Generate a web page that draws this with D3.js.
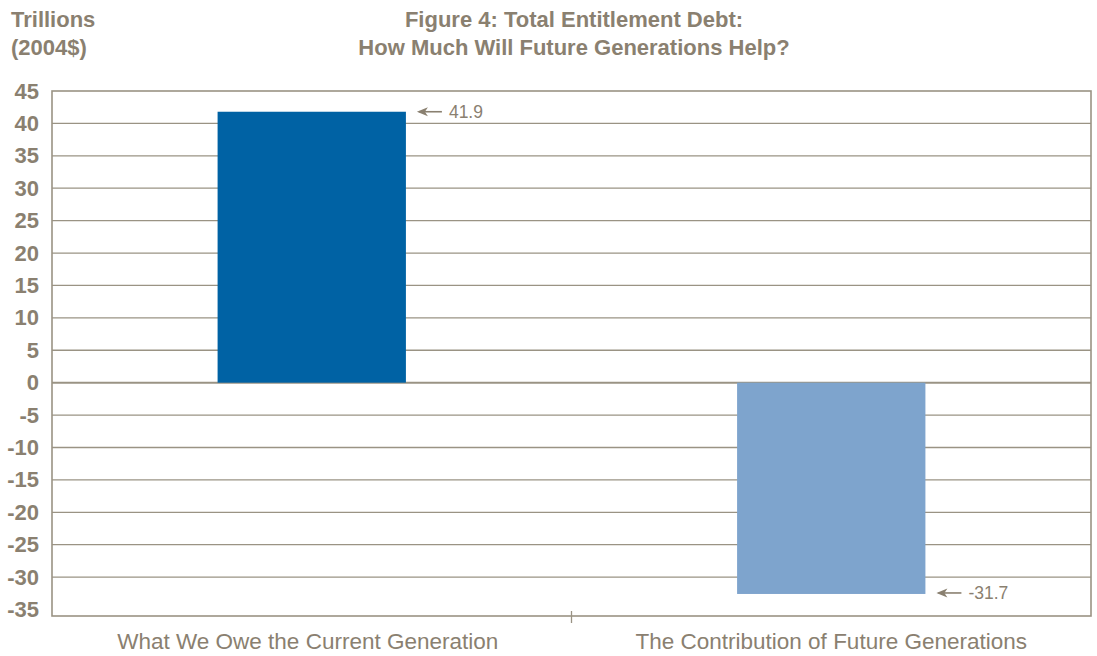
<!DOCTYPE html>
<html><head><meta charset="utf-8">
<script src="https://cdn.jsdelivr.net/npm/d3@7"></script>
<style>body{margin:0;background:#fff}svg{display:block}</style>
</head><body>
<script>
const categories = ["What We Owe the Current Generation", "The Contribution of Future Generations"];
const values = [41.8, -32.6];
const valueLabels = ["41.9", "-31.7"];
const barColors = ["#0062a4", "#7ea4cd"];
const yTicks = [45, 40, 35, 30, 25, 20, 15, 10, 5, 0, -5, -10, -15, -20, -25, -30, -35];
const gridValues = [40, 35, 30, 25, 20, 15, 10, 5, 0, -5, -10, -15, -20, -25, -30];
const titleLines = ["Figure 4: Total Entitlement Debt:", "How Much Will Future Generations Help?"];
const unitLines = ["Trillions", "(2004$)"];

const W = 1097, H = 656;
const txt = "#8a8070", grid = "#9a9384";
const L = 52, R = 1091, T = 91, B = 616;
const svg = d3.select("body").append("svg").attr("width", W).attr("height", H);
const font = "'Liberation Sans', Arial, sans-serif";

const y = d3.scaleLinear().domain([-36, 45]).range([B, T]);
const x = d3.scaleBand().domain(categories).range([L, R]).padding(0);
const barW = x.bandwidth() * 0.3625;

// gridlines
svg.append("g").selectAll("line").data(gridValues).join("line")
  .attr("x1", L).attr("x2", R).attr("y1", d => y(d)).attr("y2", d => y(d))
  .attr("stroke", grid).attr("stroke-width", d => d === 0 ? 2 : 1.3);

// bars
svg.append("g").selectAll("rect").data(values).join("rect")
  .attr("x", (d, i) => x(categories[i]) + x.bandwidth() / 2 - barW / 2)
  .attr("width", barW)
  .attr("y", d => y(Math.max(0, d)))
  .attr("height", d => Math.abs(y(d) - y(0)))
  .attr("fill", (d, i) => barColors[i]);

// frame
svg.append("rect").attr("x", L).attr("y", y(45)).attr("width", R - L).attr("height", y(-36) - y(45))
  .attr("fill", "none").attr("stroke", grid).attr("stroke-width", 1.6);

// middle tick
svg.append("line").attr("x1", x(categories[1])).attr("x2", x(categories[1]))
  .attr("y1", B - 5).attr("y2", B + 7).attr("stroke", grid).attr("stroke-width", 1.3);

// y axis labels
const yAxis = d3.axisLeft(y).tickValues(yTicks).tickSize(0).tickPadding(13).tickFormat(d => String(d));
const ga = svg.append("g").attr("transform", `translate(${L},0)`).call(yAxis);
ga.select(".domain").remove();
ga.selectAll("text").attr("fill", txt).style("font", `bold 22px ${font}`);

// x labels
svg.append("g").selectAll("text").data(categories).join("text")
  .attr("x", (d, i) => x(d) + x.bandwidth() / 2 + (i === 0 ? -4 : 0)).attr("y", 649)
  .attr("text-anchor", "middle").attr("fill", txt)
  .style("font", `22.5px ${font}`).text(d => d);

// value annotations
const ann = svg.append("g").selectAll("g").data(values).join("g")
  .attr("transform", (d, i) => `translate(${x(categories[i]) + x.bandwidth() / 2 + barW / 2 + 11},${i === 0 ? y(d) : y(d) - 1})`);
ann.append("line").attr("x1", 2).attr("x2", 25).attr("y1", 0).attr("y2", 0).attr("stroke", txt).attr("stroke-width", 1.6);
ann.append("path").attr("d", "M0,0 L11,-4.5 L8,0 L11,4.5 Z").attr("fill", txt);
ann.append("text").attr("x", 32).attr("y", 6).attr("fill", txt)
  .style("font", `17.5px ${font}`).text((d, i) => valueLabels[i]);

// title
svg.append("g").selectAll("text").data(titleLines).join("text")
  .attr("x", 574).attr("y", (d, i) => 27 + i * 28).attr("text-anchor", "middle")
  .attr("fill", txt).style("font", `bold 22px ${font}`).text(d => d);
svg.append("g").selectAll("text").data(unitLines).join("text")
  .attr("x", 11).attr("y", (d, i) => 27 + i * 28)
  .attr("fill", txt).style("font", `bold 22px ${font}`).text(d => d);
</script>
</body></html>
